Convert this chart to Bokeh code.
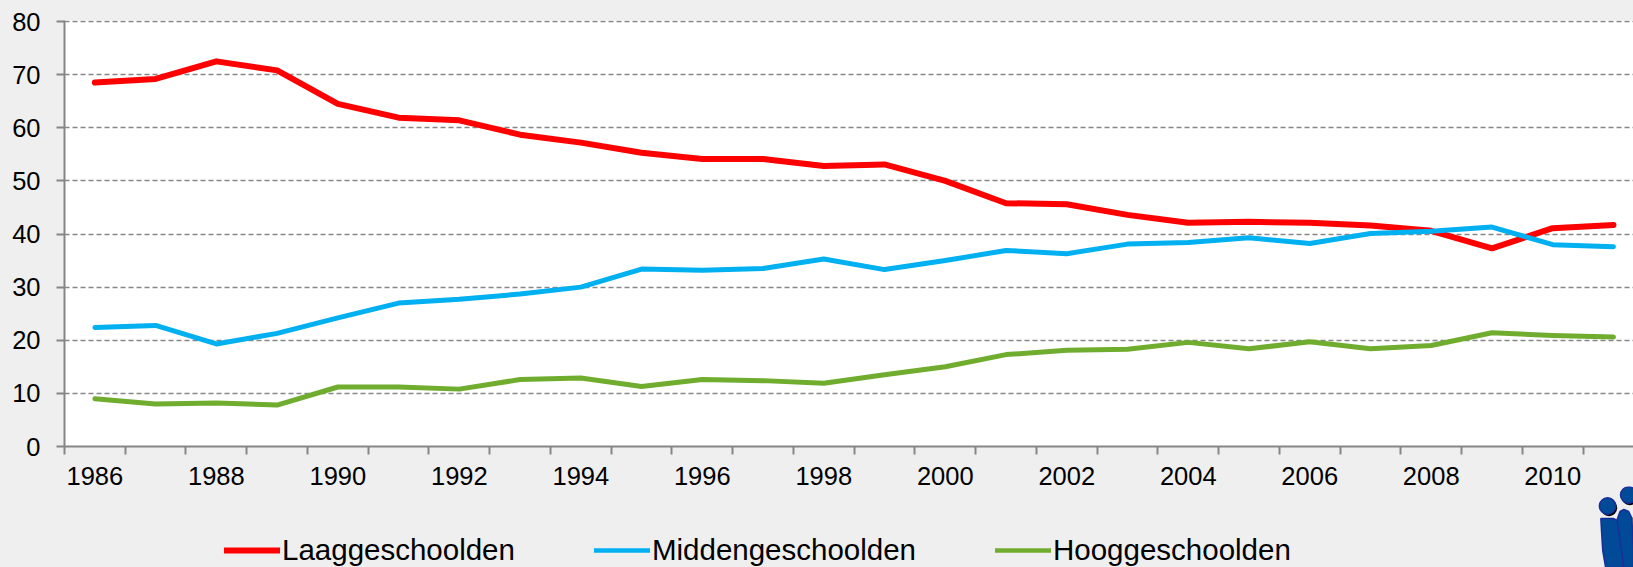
from bokeh.embed import file_html
from bokeh.layouts import column
from bokeh.resources import INLINE
from bokeh.plotting import figure
from bokeh.models import FixedTicker, Legend, LegendItem, Range1d

years = list(range(1986, 2012))
laag = [68.5, 69.2, 72.5, 70.8, 64.5, 61.9, 61.4, 58.7, 57.2, 55.3, 54.1, 54.1, 52.8,
        53.1, 50.0, 45.8, 45.6, 43.6, 42.1, 42.3, 42.1, 41.6, 40.6, 37.3, 41.1, 41.7]
midden = [22.4, 22.8, 19.3, 21.3, 24.2, 27.0, 27.7, 28.7, 30.0, 33.4, 33.2, 33.5, 35.3,
          33.3, 35.0, 36.9, 36.3, 38.1, 38.4, 39.3, 38.2, 40.1, 40.5, 41.3, 38.0, 37.6]
hoog = [9.0, 8.0, 8.2, 7.8, 11.2, 11.2, 10.8, 12.6, 12.9, 11.3, 12.6, 12.4, 11.9,
        13.5, 15.0, 17.3, 18.1, 18.3, 19.6, 18.4, 19.7, 18.4, 19.0, 21.4, 20.9, 20.6]
series_names = ["Laaggeschoolden", "Middengeschoolden", "Hooggeschoolden"]
y_ticks = [0, 10, 20, 30, 40, 50, 60, 70, 80]
x_labels = list(range(1986, 2012, 2))
boundaries = [y - 0.5 for y in years] + [2011.5]

BG = "#efefef"
AX = "#868686"
RED, BLUE, GREEN = "#ff0000", "#00b0f0", "#70ad2f"

p = figure(width=1633, height=567, output_backend="svg", toolbar_location=None,
           x_range=Range1d(1985.5, 2011.33), y_range=Range1d(0, 80.19),
           min_border_left=64, min_border_right=0, min_border_top=20, min_border_bottom=121,
           background_fill_color="white", border_fill_color=BG, outline_line_color=None)

p.xgrid.visible = False
p.ygrid.ticker = FixedTicker(ticks=y_ticks)
p.ygrid.grid_line_color = AX
p.ygrid.grid_line_width = 1.5
p.ygrid.grid_line_dash = "5 3"

xa = p.xaxis[0]
xa.ticker = FixedTicker(ticks=x_labels, minor_ticks=boundaries)
xa.axis_line_color = AX
xa.axis_line_width = 2
xa.major_tick_line_color = None
xa.major_tick_out = 0
xa.major_tick_in = 0
xa.minor_tick_line_color = AX
xa.minor_tick_line_width = 2
xa.minor_tick_out = 8
xa.minor_tick_in = 0
xa.major_label_standoff = 12
xa.major_label_text_font = "Liberation Sans"
xa.major_label_text_font_size = "25.5px"
xa.major_label_text_color = "black"
xa.formatter.use_scientific = False
xa.formatter.precision = 0

ya = p.yaxis[0]
ya.ticker = FixedTicker(ticks=y_ticks)
ya.axis_line_color = AX
ya.axis_line_width = 2
ya.major_tick_line_color = AX
ya.major_tick_line_width = 2
ya.major_tick_out = 8
ya.major_tick_in = 0
ya.minor_tick_line_color = None
ya.major_label_standoff = 16
ya.major_label_text_font = "Liberation Sans"
ya.major_label_text_font_size = "25.5px"
ya.major_label_text_color = "black"

p.line(years, laag, line_color=RED, line_width=6, line_cap="round", line_join="round")
p.line(years, midden, line_color=BLUE, line_width=5, line_cap="round", line_join="round")
p.line(years, hoog, line_color=GREEN, line_width=5, line_cap="round", line_join="round")

# transparent strip over the bottom of the chart: holds the legend and the logo,
# because annotations of the chart itself are clipped to its plot area
FOOT_H = 81
f = figure(width=1633, height=FOOT_H, output_backend="svg", toolbar_location=None,
           x_range=Range1d(0, 1633), y_range=Range1d(567, 567 - FOOT_H),
           x_axis_type=None, y_axis_type=None, min_border=0,
           background_fill_alpha=0, border_fill_alpha=0, outline_line_color=None,
           margin=(-FOOT_H, 0, 0, 0))
f.xgrid.visible = False
f.ygrid.visible = False

k1 = f.line([0, 0], [0, 0], line_color=RED, line_width=6, line_cap="round")
k2 = f.line([0, 0], [0, 0], line_color=BLUE, line_width=4.5, line_cap="round")
k3 = f.line([0, 0], [0, 0], line_color=GREEN, line_width=4.5, line_cap="round")
legend = Legend(items=[LegendItem(label=n, renderers=[k]) for n, k in zip(series_names, [k1, k2, k3])],
                orientation="horizontal", location=(160, 0),
                background_fill_alpha=0, border_line_color=None,
                glyph_width=56, glyph_height=20, label_standoff=2, spacing=79,
                margin=0, padding=0,
                label_text_font="Liberation Sans", label_text_font_size="29.5px",
                label_text_color="black", label_height=30)
f.add_layout(legend, "center")

LOGO = "#004a98"
EDGE = "#1a2e9a"
f.patch([1632, 1633, 1633, 1632], [517, 517, 548, 548], fill_color="black", line_color=None)
f.circle([1607.5, 1629], [507.5, 496.5], radius=8.5, fill_color="black", line_color=None)
f.circle([1606, 1628], [505.5, 494.5], radius=8.5, fill_color=LOGO, line_color=EDGE, line_width=1.5)
f.patch([1599, 1612, 1616, 1620, 1622, 1621, 1604, 1601, 1600], [518, 518, 520, 520, 565, 567, 567, 550, 535],
        fill_color=LOGO, line_color=EDGE, line_width=1.5)
f.patch([1616, 1619, 1623, 1628, 1631, 1632, 1633, 1633, 1623, 1619], [519, 511, 509, 511, 517, 530, 550, 567, 567, 540],
        fill_color=LOGO, line_color=EDGE, line_width=1.5)

html = file_html(column(p, f, spacing=0), INLINE)
html = html.replace("<head>", "<head><style>html,body{background:#efefef;overflow:hidden}</style>", 1)
open("out.html", "w").write(html)
